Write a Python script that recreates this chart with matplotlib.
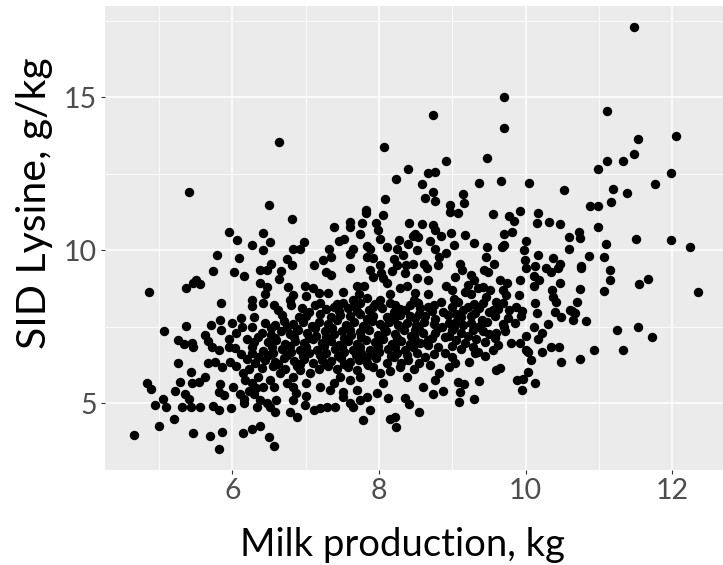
import matplotlib
matplotlib.use("Agg")
import matplotlib.pyplot as plt
from matplotlib.ticker import MultipleLocator

plt.rcParams['font.family'] = ['Lato', 'DejaVu Sans']

# points (milk production kg, SID lysine g/kg)
upper_pts = [
    (6.63, 13.53), (8.07, 13.38), (8.74, 14.43), (9.71, 15.01), (9.71, 13.99), (9.48, 13.0), (8.91, 12.9),
    (11.48, 17.28), (11.11, 14.56), (11.53, 13.62), (12.05, 13.74), (11.48, 13.14), (11.11, 12.9), (11.33, 12.9),
    (5.41, 11.89), (8.39, 12.64), (8.23, 12.31), (8.08, 11.66), (6.50, 11.46), (7.82, 11.31), (7.82, 11.20),
    (8.05, 11.15), (6.81, 11.01), (8.67, 12.51), (8.77, 12.55), (8.59, 12.16), (8.73, 11.91), (8.63, 11.69),
    (8.77, 11.59), (9.36, 12.20), (9.66, 12.26), (10.05, 12.18), (10.53, 11.98), (9.14, 11.82), (9.16, 11.53),
    (8.97, 11.47), (8.97, 11.23), (9.08, 11.22), (9.56, 11.18), (9.77, 11.12), (9.92, 11.27), (10.17, 11.20),
    (10.99, 12.64), (11.99, 12.51), (11.76, 12.16), (11.20, 12.00), (11.38, 11.85), (11.17, 11.57),
    (10.88, 11.44), (10.99, 11.44),
]

left_pts = [
    (5.95, 10.6), (6.06, 10.33), (6.27, 10.15), (5.79, 9.83), (6.09, 9.74), (5.74, 9.30), (6.02, 9.27),
    (6.16, 9.14), (5.50, 9.02), (5.46, 8.91), (5.56, 8.89), (5.37, 8.75), (4.86, 8.64), (5.84, 8.26),
    (6.26, 8.37), (6.26, 8.18), (5.83, 7.71), (6.11, 7.77),
    (4.65, 3.96), (5.00, 4.25), (5.20, 4.47), (4.94, 4.93), (5.09, 4.86), (5.05, 5.14), (4.83, 5.64),
    (4.89, 5.45), (5.07, 7.36), (5.37, 7.52), (5.26, 6.30), (5.26, 7.06), (5.34, 6.93), (5.45, 6.97),
    (5.46, 6.84), (5.62, 7.22), (5.67, 7.04), (5.72, 6.84), (5.81, 6.73), (5.95, 6.84), (6.04, 6.79),
    (5.43, 6.03), (5.28, 5.69), (5.21, 5.40), (5.35, 5.29), (5.40, 5.12), (5.31, 4.86), (5.44, 4.86),
    (5.56, 4.86), (5.45, 5.64), (5.54, 5.70), (5.63, 5.84), (5.67, 6.30), (5.76, 6.35), (5.86, 6.19),
    (5.97, 6.33), (5.83, 5.63), (5.89, 5.26), (5.81, 5.37), (6.01, 5.53), (5.73, 4.90), (5.82, 4.77),
    (5.98, 4.83), (5.46, 4.03), (5.69, 3.92), (5.86, 4.05), (5.81, 3.50), (6.15, 4.01), (6.26, 4.16),
    (6.15, 5.97), (6.17, 5.75), (6.16, 5.12), (6.16, 5.01), (6.26, 6.84), (6.26, 6.62), (6.31, 6.30),
    (6.26, 5.64), (6.32, 5.48), (6.34, 4.88), (6.13, 7.49), (6.26, 7.49), (6.35, 7.17), (6.37, 4.25),
    (6.05, 7.30), (6.20, 7.10), (6.30, 6.98), (6.12, 6.60), (6.20, 6.45), (6.35, 6.50), (6.05, 6.20),
    (6.22, 6.10), (6.35, 5.85), (6.30, 5.30), (6.22, 5.40), (6.10, 5.30), (5.95, 7.10), (5.85, 7.40),
    (6.00, 7.60), (6.30, 7.80), (5.70, 7.55),
]

mid_pts = [
    (7.61, 10.92), (7.61, 10.76), (7.77, 10.87), (7.96, 10.89), (8.41, 10.89), (7.39, 10.76), (6.42, 10.57),
    (7.98, 10.65), (7.74, 10.52), (8.01, 10.37), (6.51, 10.28), (6.98, 10.28), (7.45, 10.30), (7.52, 10.35),
    (8.27, 10.33), (8.46, 10.46), (8.40, 10.20), (6.41, 10.0), (6.83, 10.02), (6.92, 10.02), (7.32, 10.02),
    (7.65, 10.02), (7.61, 9.87), (7.83, 10.13), (7.88, 10.02), (8.11, 10.09), (8.25, 10.02), (8.33, 9.84),
    (6.75, 9.70), (6.81, 9.50), (6.52, 9.56), (7.23, 9.67), (7.34, 9.76), (7.11, 9.52), (7.84, 9.76),
    (7.92, 9.73), (7.61, 9.41), (8.01, 9.51), (8.20, 9.70), (8.24, 9.51), (8.18, 9.30), (8.37, 9.51),
    (8.46, 9.56), (6.38, 9.35), (6.47, 9.35), (6.66, 9.32), (6.64, 9.06), (7.27, 9.29), (7.35, 9.18),
    (7.88, 9.35), (7.92, 9.13), (8.03, 9.24), (8.06, 9.08), (8.35, 9.26), (6.38, 8.93), (6.47, 8.78),
    (6.45, 8.58), (6.76, 8.78), (6.99, 8.82), (7.10, 8.75), (6.83, 8.54), (7.01, 8.50), (7.18, 8.60),
    (7.31, 8.60), (7.51, 8.63), (7.70, 8.82), (7.79, 8.82), (7.73, 8.58), (8.11, 8.91), (8.15, 8.58),
    (8.29, 8.75), (8.38, 8.82), (6.42, 8.26), (6.56, 8.20), (6.78, 8.37), (7.20, 8.26), (7.38, 8.15),
    (7.51, 8.26), (7.65, 8.37), (7.74, 8.26), (7.83, 8.42), (7.92, 8.15), (8.01, 8.37), (8.15, 8.26),
    (8.29, 8.09), (8.42, 8.20), (6.91, 7.82), (7.20, 7.91), (7.47, 7.88), (7.61, 7.84), (7.74, 7.90),
    (7.92, 7.86), (8.11, 7.80), (8.29, 7.88), (8.42, 7.84),
    (9.84, 10.95), (10.16, 10.87), (10.32, 10.91), (10.47, 10.84), (8.58, 10.84), (8.73, 10.81),
    (8.77, 10.65), (8.49, 10.54), (8.53, 10.43), (8.85, 10.46), (8.98, 10.57), (9.18, 10.48), (9.71, 10.54),
    (9.82, 10.58), (9.71, 10.16), (10.01, 10.30), (10.59, 10.43), (8.69, 10.29), (9.02, 10.17), (9.30, 10.24),
    (9.47, 10.09), (9.46, 9.76), (9.68, 10.09), (8.52, 10.0), (8.76, 10.05), (8.82, 9.78), (8.91, 9.89),
    (9.98, 10.0), (9.99, 9.67), (10.01, 9.43), (10.17, 9.84), (10.38, 9.73), (10.47, 9.56), (10.44, 9.43),
    (10.59, 10.05), (8.62, 9.56), (8.65, 9.40), (8.81, 9.51), (9.11, 9.54), (9.13, 9.35), (9.57, 9.54),
    (9.43, 9.35), (9.49, 9.29), (9.26, 9.18), (9.29, 9.02), (9.22, 8.86), (10.13, 9.48), (10.28, 9.43),
    (10.35, 9.29), (10.12, 9.15), (10.18, 9.02), (9.04, 9.11), (8.52, 9.08), (8.67, 9.02), (9.65, 9.02),
    (9.74, 8.91), (9.93, 9.02), (10.12, 8.82), (10.47, 8.93), (8.91, 8.82), (9.00, 8.69), (8.67, 8.58),
    (8.49, 8.60), (9.18, 8.64), (9.26, 8.58), (9.35, 8.75), (9.42, 8.80), (9.51, 8.69), (9.46, 8.47),
    (9.69, 8.69), (9.73, 8.53), (9.91, 8.53), (10.36, 8.69), (10.38, 8.45), (10.41, 8.31), (8.53, 8.26),
    (8.67, 8.15), (8.85, 8.31), (8.99, 8.15), (9.08, 8.31), (9.22, 8.15), (9.31, 7.93), (9.42, 8.26),
    (9.55, 8.04), (9.69, 8.26), (9.78, 8.04), (9.87, 8.15), (10.13, 8.26), (10.15, 7.93), (10.40, 7.98),
    (10.49, 7.82), (10.61, 8.04), (8.49, 7.78), (8.63, 7.85), (8.76, 7.75), (8.94, 7.88), (9.12, 7.80),
    (9.40, 7.72), (9.58, 7.86), (9.76, 7.79), (9.94, 7.84),
]

right_pts = [
    (10.99, 10.74), (10.73, 10.59), (10.74, 10.39), (11.51, 10.35), (11.98, 10.33), (12.25, 10.11),
    (11.10, 10.20), (10.86, 9.80), (11.07, 9.76), (10.76, 9.48), (10.76, 9.40), (11.15, 9.35), (11.15, 9.02),
    (11.55, 8.89), (11.67, 9.04), (12.36, 8.64), (10.74, 8.72), (11.07, 8.67), (10.70, 8.30), (10.64, 8.02),
    (10.68, 7.95), (10.82, 7.67), (10.65, 7.72), (11.25, 7.39), (11.53, 7.49), (11.73, 7.15), (10.93, 6.73),
    (11.33, 6.73), (10.74, 6.43),
    (10.11, 7.47), (10.22, 7.28), (10.17, 7.08), (10.35, 6.84), (10.46, 6.84), (10.48, 6.35), (10.22, 6.66),
    (10.01, 6.73), (10.04, 6.66), (10.08, 6.41), (10.03, 6.03), (9.88, 5.75), (9.96, 5.79), (9.95, 5.42),
    (10.13, 5.64), (9.80, 6.97), (9.92, 6.95), (9.59, 7.28), (9.55, 6.73), (9.69, 7.58), (9.60, 6.08),
    (9.65, 6.13), (9.37, 5.73), (9.23, 6.35), (9.31, 6.62), (9.35, 6.68), (9.08, 5.70), (9.16, 5.62),
    (9.11, 5.37), (9.09, 5.04), (9.29, 5.12), (8.87, 5.38), (8.74, 5.29), (8.60, 5.53), (8.77, 5.75),
    (8.82, 5.97), (8.55, 4.71), (8.95, 6.19), (9.04, 6.30), (8.99, 6.51), (8.90, 6.62), (8.81, 6.84),
    (8.67, 6.90), (8.56, 6.95), (8.63, 6.51), (8.52, 6.62), (8.86, 7.49), (8.77, 7.28), (8.90, 7.17),
    (8.67, 7.06), (8.49, 7.39), (8.49, 7.06), (9.05, 7.65), (9.15, 7.55), (9.25, 7.62), (9.35, 7.50),
    (9.42, 7.35), (9.12, 7.30), (9.22, 7.20), (9.32, 7.10), (9.05, 7.05), (9.18, 6.95), (9.40, 7.60),
    (9.00, 7.40), (9.28, 7.40),
]

low_pts = [
    (6.56, 3.59), (6.50, 3.90), (7.78, 4.44), (8.15, 4.47), (8.22, 4.55), (8.23, 4.23), (8.12, 5.15),
    (8.36, 5.15), (8.41, 4.97), (7.88, 4.77), (6.51, 4.86), (6.58, 4.71), (6.79, 4.71), (6.88, 4.55),
    (7.11, 4.77), (7.20, 4.84), (7.29, 4.86), (7.40, 4.86), (7.51, 5.19), (7.61, 4.99), (7.65, 4.86),
    (6.83, 5.10), (6.99, 4.93), (6.87, 5.32), (7.01, 5.23), (6.60, 5.10), (6.47, 4.99), (6.38, 5.10),
    (7.74, 5.10), (7.83, 5.21), (7.97, 5.32), (8.06, 5.64), (7.70, 5.42), (7.51, 5.37), (7.33, 5.42),
    (7.20, 5.53), (7.38, 5.64), (7.47, 5.86), (7.61, 5.75), (7.74, 5.86), (6.56, 5.53), (6.74, 5.64),
    (6.83, 5.53), (6.51, 5.75), (6.42, 5.53), (6.65, 5.97), (6.83, 5.86), (7.01, 5.64), (7.06, 5.97),
    (6.92, 6.08), (7.92, 6.19), (8.01, 5.97), (8.11, 6.30), (8.20, 6.51), (8.29, 6.19), (8.38, 5.86),
    (7.83, 6.51),
]

core_pts = [
    (6.62, 8.05), (6.95, 8.12), (7.05, 7.98), (7.28, 8.08), (7.45, 8.02), (7.58, 8.12), (7.70, 8.00),
    (7.86, 8.05), (8.04, 8.10), (8.20, 7.98), (8.36, 8.05), (8.56, 8.10), (8.72, 8.02), (8.88, 7.96),
    (9.15, 8.05), (9.36, 8.12), (9.62, 8.08), (9.95, 8.00),
    (6.45, 7.62), (6.58, 7.55), (6.70, 7.68), (6.82, 7.58), (6.96, 7.64), (7.08, 7.52), (7.18, 7.66),
    (7.30, 7.58), (7.42, 7.70), (7.55, 7.55), (7.66, 7.64), (7.78, 7.52), (7.90, 7.68), (8.02, 7.58),
    (8.13, 7.66), (8.26, 7.54), (8.38, 7.62), (8.50, 7.55), (8.62, 7.66), (8.75, 7.58), (8.95, 7.62),
    (9.48, 7.66), (9.70, 7.50), (9.85, 7.60), (10.30, 7.58),
    (6.40, 7.30), (6.52, 7.22), (6.66, 7.35), (6.78, 7.25), (6.90, 7.38), (7.02, 7.28), (7.14, 7.20),
    (7.26, 7.36), (7.38, 7.26), (7.50, 7.34), (7.62, 7.22), (7.74, 7.32), (7.86, 7.40), (7.98, 7.24),
    (8.10, 7.34), (8.22, 7.26), (8.34, 7.38), (8.44, 7.20), (8.60, 7.30), (9.50, 7.25), (9.72, 7.35),
    (10.00, 7.20),
    (6.48, 6.98), (6.60, 7.05), (6.72, 6.92), (6.85, 7.02), (6.97, 6.95), (7.10, 7.08), (7.22, 6.96),
    (7.34, 7.04), (7.46, 6.90), (7.58, 7.02), (7.70, 6.94), (7.82, 7.06), (7.94, 6.98), (8.06, 7.08),
    (8.18, 6.92), (8.30, 7.02), (8.42, 6.94), (9.45, 7.00), (9.62, 6.90),
    (6.42, 6.70), (6.55, 6.64), (6.68, 6.76), (6.80, 6.66), (6.92, 6.74), (7.04, 6.62), (7.16, 6.72),
    (7.28, 6.64), (7.40, 6.76), (7.52, 6.66), (7.64, 6.72), (7.76, 6.62), (7.88, 6.74), (8.00, 6.68),
    (8.12, 6.76), (8.24, 6.64), (8.36, 6.72), (9.12, 6.75), (9.45, 6.55),
    (6.45, 6.40), (6.58, 6.34), (6.70, 6.46), (6.84, 6.36), (6.98, 6.44), (7.10, 6.32), (7.22, 6.42),
    (7.35, 6.36), (7.48, 6.46), (7.60, 6.34), (7.72, 6.40), (7.96, 6.46), (8.40, 6.42), (8.55, 6.30),
    (6.40, 6.15), (6.55, 6.20), (6.72, 6.10), (6.88, 6.22), (7.18, 6.12), (7.30, 6.22), (7.42, 6.10),
    (7.58, 6.18), (7.70, 6.08), (7.85, 6.25), (8.15, 6.05), (8.48, 6.12), (8.70, 6.25),
]

# second pass over the darkest part of the cloud
core_pts2 = [
    (6.52, 7.44), (6.75, 7.48), (6.88, 7.42), (7.12, 7.46), (7.36, 7.44), (7.60, 7.40), (7.82, 7.46),
    (8.07, 7.44), (8.30, 7.48), (8.55, 7.42), (8.80, 7.44), (9.02, 7.50),
    (6.58, 7.14), (6.84, 7.16), (7.05, 7.12), (7.28, 7.16), (7.52, 7.12), (7.76, 7.16), (8.00, 7.12),
    (8.24, 7.14), (8.48, 7.18), (8.72, 7.12), (8.96, 7.20), (9.58, 7.12),
    (6.54, 6.84), (6.78, 6.86), (7.00, 6.82), (7.25, 6.86), (7.50, 6.82), (7.74, 6.84), (7.98, 6.86),
    (8.22, 6.82), (8.46, 6.84), (9.00, 6.88), (9.28, 6.84),
    (6.50, 6.56), (6.74, 6.58), (6.96, 6.54), (7.20, 6.58), (7.44, 6.54), (7.68, 6.56), (7.92, 6.60),
    (8.16, 6.54), (8.38, 6.56), (8.75, 6.60),
    (6.62, 6.26), (6.92, 6.28), (7.26, 6.26), (7.52, 6.28), (7.84, 6.30), (8.30, 6.32),
    (6.80, 8.20), (7.12, 8.22), (7.42, 8.24), (7.66, 8.18), (7.95, 8.24), (8.22, 8.22), (8.48, 8.36),
    (8.75, 8.22), (9.02, 8.40), (9.30, 8.24), (9.60, 8.30),
    (6.68, 7.88), (7.00, 7.84), (7.34, 7.80), (7.84, 7.76), (8.20, 7.74), (8.55, 7.92), (9.05, 7.92),
    (9.26, 7.86), (9.50, 7.98),
]

all_pts = upper_pts + left_pts + mid_pts + right_pts + low_pts + core_pts + core_pts2
milk = [p[0] for p in all_pts]
lysine = [p[1] for p in all_pts]

fig = plt.figure(figsize=(7.23, 5.65), dpi=100)
ax = fig.add_axes([105 / 723, 95 / 565, 623.5 / 723, 464 / 565])
ax.set_facecolor('#EBEBEB')
ax.scatter(milk, lysine, s=46, color='black', linewidths=0, zorder=3)

ax.set_xlim(4.26, 12.77)
ax.set_ylim(2.81, 17.98)
ax.xaxis.set_major_locator(MultipleLocator(2))
ax.xaxis.set_minor_locator(MultipleLocator(1))
ax.yaxis.set_major_locator(MultipleLocator(5))
ax.yaxis.set_minor_locator(MultipleLocator(2.5))
ax.grid(which='major', color='white', linewidth=1.1)
ax.grid(which='minor', color='white', linewidth=0.55)
ax.set_axisbelow(True)
for s in ax.spines.values():
    s.set_visible(False)
ax.tick_params(which='major', length=3, width=0.8, color='#333333', labelsize=20.5,
               labelcolor='#4D4D4D', pad=3)
ax.tick_params(which='minor', length=0)

fig.text(403 / 723, 1 - 545 / 565, 'Milk production, kg', ha='center', va='center', fontsize=27.5)
fig.text(35 / 723, 1 - 203 / 565, 'SID Lysine, g/kg', ha='center', va='center', fontsize=29.5,
         rotation=90)

fig.savefig('out.png', dpi=100)
